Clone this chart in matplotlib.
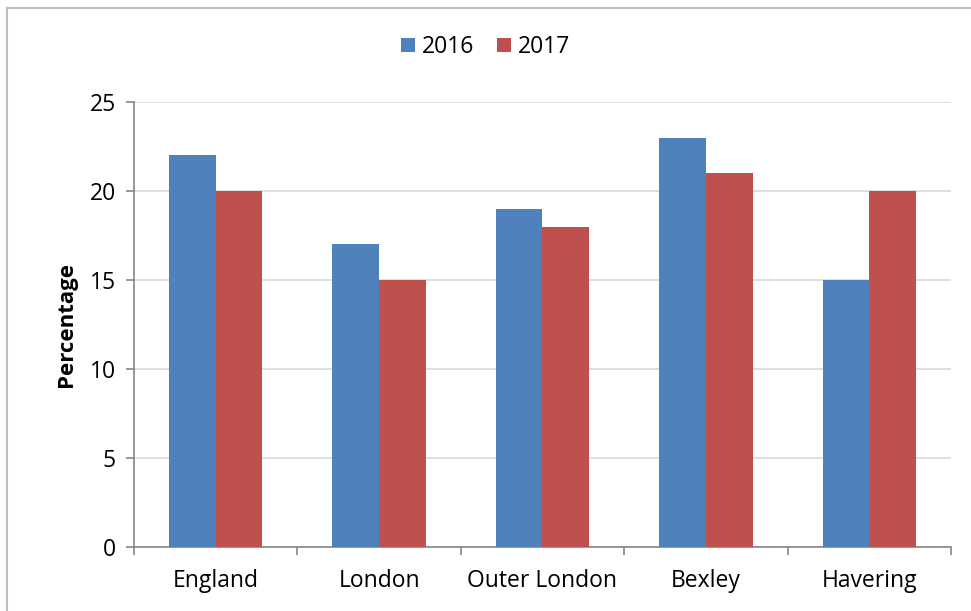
import numpy as np
import matplotlib
matplotlib.use("Agg")
import matplotlib.pyplot as plt
from matplotlib.patches import Rectangle

plt.rcParams["font.family"] = ["Open Sans", "DejaVu Sans"]

areas = ["England", "London", "Outer London", "Bexley", "Havering"]
pct_2016 = [22, 17, 19, 23, 15]
pct_2017 = [20, 15, 18, 21, 20]
series_names = ["2016", "2017"]
yticks = [0, 5, 10, 15, 20, 25]

BLUE = "#4F81BD"
RED = "#C0504D"
GRID = "#D9D9D9"
AXIS = "#868686"
FS = 16.5

fig = plt.figure(figsize=(9.71, 6.11), dpi=100)
ax = fig.add_axes([0.138, 0.1047, 0.8414, 0.7283])

x = np.arange(len(areas))
w = 1 / 3.5  # gap width 150%
ax.bar(x - w / 2, pct_2016, w, color=BLUE, label=series_names[0], zorder=3)
ax.bar(x + w / 2, pct_2017, w, color=RED, label=series_names[1], zorder=3)

ax.set_xlim(-0.5, len(areas) - 0.5)
ax.set_ylim(0, 25)
ax.set_yticks(yticks)
ax.yaxis.grid(True, color=GRID, linewidth=1.2, zorder=0)
ax.set_axisbelow(True)

# category labels centred, ticks on the boundaries
ax.set_xticks(x)
ax.set_xticklabels(areas, fontsize=FS)
ax.tick_params(axis="x", which="major", length=0, pad=16)
ax.set_xticks(np.arange(-0.5, len(areas)), minor=True)
ax.tick_params(axis="x", which="minor", length=6, color=AXIS, width=1.2)
ax.tick_params(axis="y", length=6, color=AXIS, width=1.2, labelsize=FS, pad=7)

for s in ["top", "right"]:
    ax.spines[s].set_visible(False)
for s in ["left", "bottom"]:
    ax.spines[s].set_color(AXIS)
    ax.spines[s].set_linewidth(1.2)

ax.set_ylabel("Percentage", fontsize=16, fontweight="bold", labelpad=9)

fig.legend(loc="center", bbox_to_anchor=(0.5, 0.923), ncol=2, frameon=False,
           fontsize=FS, handlelength=0.6, handleheight=0.6, handletextpad=0.3,
           columnspacing=1.0)

# chart-area border
fig.add_artist(Rectangle((7 / 971, -0.1), 2, (611 - 8) / 611 + 0.1,
                         transform=fig.transFigure, fill=False,
                         edgecolor="#BFBFBF", linewidth=1.5))

fig.savefig("out.png", dpi=100)
